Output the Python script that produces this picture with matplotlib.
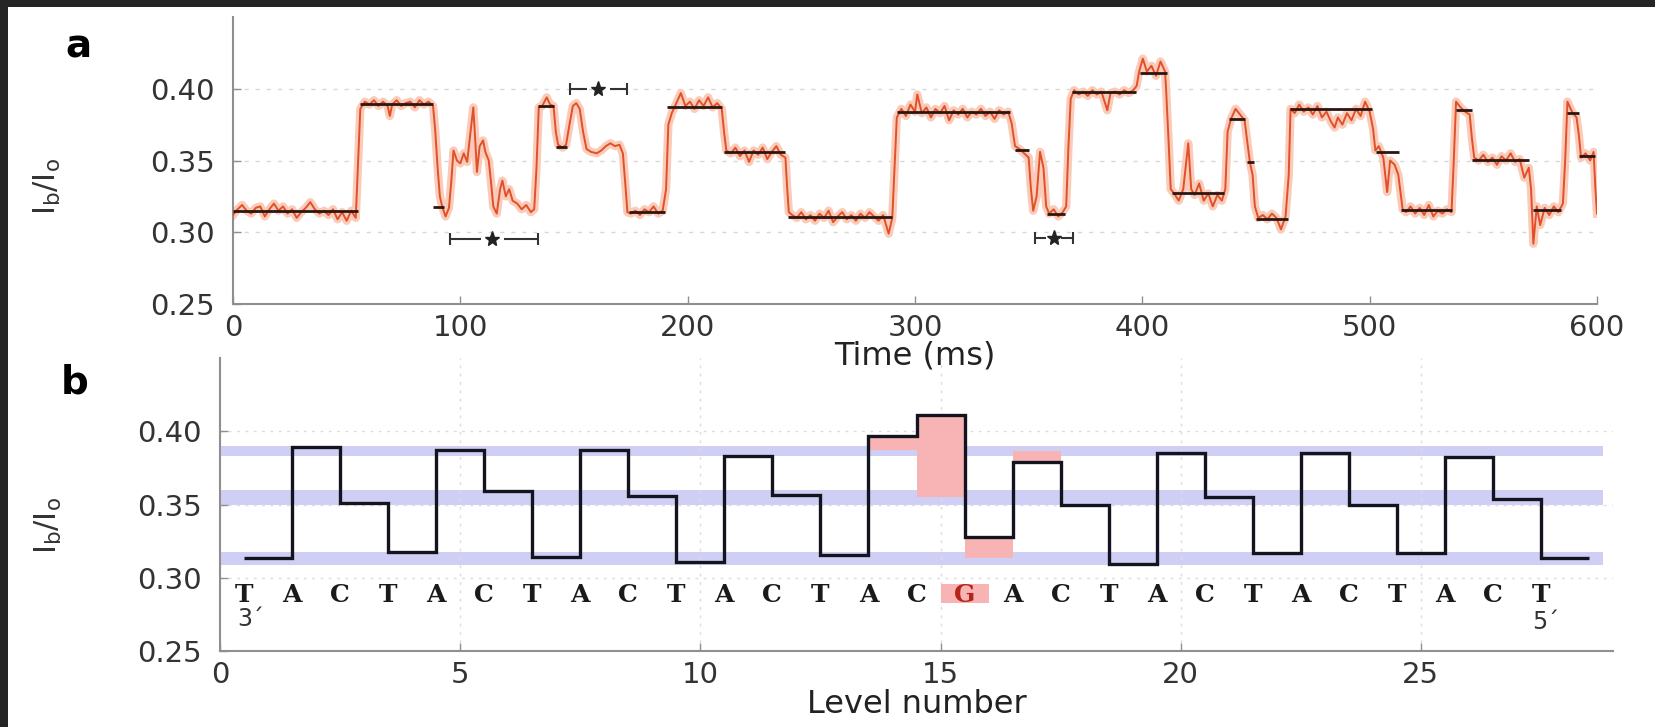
import matplotlib.pyplot as plt
from matplotlib.patches import Rectangle
from matplotlib.ticker import FormatStrFormatter

# ---- panel a: current trace (time in ms, Ib/Io) ----
trace_points = [
    (0, .312), (2, .316), (4, .319), (6, .315), (8, .313), (10, .317), (12, .318), (14, .311),
    (16, .316), (18, .320), (20, .315), (22, .318), (24, .313), (26, .316), (28, .310), (30, .314),
    (32, .317), (34, .321), (36, .316), (38, .313), (40, .315), (42, .312), (44, .316), (46, .309),
    (48, .314), (50, .308), (52, .315), (54, .310), (56, .386), (58, .391), (60, .389), (62, .392),
    (64, .388), (66, .391), (68, .388), (69, .381), (70, .389), (72, .392), (74, .388), (76, .390),
    (78, .391), (80, .387), (82, .392), (84, .389), (86, .391), (88, .388), (89, .370), (90, .345),
    (91, .325), (92, .318), (93.5, .311), (95, .317), (96, .335), (97, .357), (98.5, .350), (100, .348),
    (101.5, .355), (103, .349), (104.5, .370), (105.7, .387), (106.5, .366), (107.3, .342), (108.5, .360),
    (110, .364), (111, .356), (112.5, .350), (113.5, .335), (114.5, .318), (116, .313), (117.5, .330),
    (118.5, .336), (120, .325), (121.5, .330), (123, .322), (125, .320), (127, .316), (129, .319),
    (131, .314), (132.5, .316), (133.5, .345), (134.5, .387), (136, .388), (138, .394), (139.5, .389),
    (141, .388), (142, .370), (143, .361), (145, .359), (146.5, .361), (148, .375), (149.5, .388),
    (151, .390), (152.5, .386), (154, .370), (155.5, .358), (157.5, .356), (160, .355), (162, .357),
    (164, .360), (166, .362), (168, .360), (170, .361), (171.5, .355), (172.5, .335), (173.5, .314),
    (175, .313), (177, .315), (179, .312), (181, .316), (183, .314), (185, .318), (187, .313),
    (189, .315), (190.5, .330), (191.5, .375), (193, .383), (195, .390), (197, .397), (199, .388),
    (201, .391), (203, .386), (205, .392), (207, .388), (209, .394), (211, .387), (213, .390),
    (215, .386), (216, .370), (217, .357), (219, .355), (221, .359), (223, .353), (225, .357),
    (227, .349), (229, .357), (231, .354), (233, .359), (235, .351), (237, .356), (239, .360),
    (241, .354), (243, .352), (243.8, .330), (244.5, .314), (246, .312), (248, .310), (250, .314),
    (252, .309), (254, .312), (256, .308), (258, .313), (260, .310), (262, .315), (264, .307),
    (266, .311), (268, .314), (270, .309), (272, .312), (274, .308), (276, .313), (278, .310),
    (280, .314), (282, .311), (284, .308), (286, .312), (288.4, .299), (290, .310), (291, .345),
    (292, .380), (294, .386), (296, .381), (298, .389), (300, .384), (301, .396), (303, .383),
    (305, .387), (307, .380), (309, .386), (311, .383), (313, .388), (315, .378), (317, .385),
    (319, .382), (321, .386), (323, .380), (325, .384), (327, .382), (329, .386), (331, .381),
    (333, .384), (335, .379), (337, .385), (339, .382), (341, .384), (342.5, .376), (344, .360),
    (346, .358), (348, .355), (350, .352), (351, .330), (352, .315), (353.5, .325), (355, .356),
    (356.5, .345), (357.7, .318), (359, .313), (361, .316), (363, .311), (365, .314), (366.5, .318),
    (367.5, .360), (368.5, .393), (370, .399), (372, .396), (374, .398), (376, .395), (378, .399),
    (380, .396), (382, .398), (384.6, .385), (386, .397), (388, .398), (390, .396), (392, .399),
    (394, .397), (396, .399), (397.5, .402), (398.6, .412), (400.2, .421), (402, .412), (404, .416),
    (406, .409), (408, .419), (410, .412), (410.5, .398), (411.5, .365), (412.5, .330), (414, .327),
    (416, .322), (418, .330), (420.2, .362), (421.5, .330), (423, .326), (425, .334), (427, .322),
    (429, .327), (431, .318), (433, .326), (435, .322), (436.5, .330), (437.5, .370), (439, .379),
    (441, .386), (443, .382), (445, .378), (446, .365), (447.3, .349), (448.5, .340), (449.5, .318),
    (451, .310), (453, .312), (455, .309), (457, .313), (459, .310), (461, .302), (463, .311),
    (464.4, .340), (465.2, .386), (467, .383), (469, .389), (471, .384), (473, .387), (475, .382),
    (477, .388), (479, .380), (481, .384), (483, .377), (484.6, .373), (486, .380), (488, .375),
    (490, .383), (492, .378), (494, .386), (496, .381), (498, .391), (500, .384), (501.5, .372),
    (502.5, .357), (504, .360), (506, .352), (507.7, .328), (509, .350), (511, .347), (512.6, .340),
    (513.4, .330), (514.5, .316), (516, .314), (518, .318), (520, .313), (522, .317), (524, .312),
    (526, .319), (528, .311), (530, .315), (532, .313), (534, .316), (536, .314), (537, .350),
    (538, .391), (540, .387), (542, .384), (544, .382), (545, .365), (546, .352), (548, .350),
    (550, .354), (552, .349), (554, .352), (556, .347), (558, .353), (560, .350), (562, .355),
    (564, .349), (566, .351), (568, .338), (570, .345), (571, .330), (572, .292), (573.5, .318),
    (575, .305), (577, .317), (579, .312), (581, .318), (583, .314), (585, .320), (586, .350),
    (587, .391), (589, .384), (591, .380), (592, .368), (593, .352), (595, .355), (597, .350),
    (598.5, .356), (599.3, .330), (600, .313),
]

# fitted levels (black segments)
fit_start = [0, 56, 88, 134, 142, 174, 191, 216, 244, 292, 344, 358, 369, 399, 413, 438, 446, 450, 465, 503, 514, 538, 545, 572, 587, 592]
fit_end = [55, 88, 93, 141, 147, 190, 215, 243, 290, 342, 350, 366, 397, 411, 436, 445, 449, 464, 501, 513, 536, 545, 570, 584, 592, 599]
fit_level = [.3145, .3895, .3176, .3880, .3593, .3141, .3870, .3558, .3106, .3836, .3570, .3130, .3975, .4113, .3273, .3790, .3488, .3095, .3859, .3558, .3157, .3852, .3504, .3157, .3829, .3530]

# "|-*-|" annotations
star_left = [95.4, 148.2, 352.7]
star_right = [134.3, 173.1, 369.5]
star_mid = [114.0, 160.7, 361.0]
star_y = [0.2955, 0.400, 0.296]

# ---- panel b: level sequence ----
level_number = list(range(1, 29))
level_value = [0.3134, 0.389, 0.351, 0.3175, 0.387, 0.359, 0.314, 0.387, 0.3557, 0.3106,
               0.383, 0.3563, 0.3154, 0.3966, 0.411, 0.3277, 0.379, 0.350, 0.3095, 0.385,
               0.355, 0.3168, 0.385, 0.350, 0.3168, 0.3823, 0.3536, 0.3134]
band_center = [0.3865, 0.3547, 0.313]
band_half = [0.0035, 0.0052, 0.0045]
band_end = 28.8
pink_x0 = [13.5, 14.5, 15.5, 16.5]
pink_x1 = [14.5, 15.5, 16.5, 17.5]
pink_y0 = [0.387, 0.355, 0.3134, 0.379]
pink_y1 = [0.3966, 0.411, 0.3277, 0.3865]
sequence = "TACTACTACTACTACGACTACTACTACT"
mutant_index = 15
mutant_box = (15.0, 16.0, 0.2826, 0.2955)
seq_y = 0.2880

plt.rcParams['font.family'] = ['DejaVu Sans']
plt.rcParams['mathtext.default'] = 'regular'

fig = plt.figure(figsize=(16.55, 7.27), dpi=100, facecolor='#252525')
# white sheet on the dark slide background
fig.patches.append(Rectangle((8 / 1655, 0), 1, 1 - 7 / 727, transform=fig.transFigure,
                             facecolor='white', edgecolor='none', zorder=-10))

ax1 = fig.add_axes([233 / 1655, 1 - 304 / 727, 1364 / 1655, 287 / 727])
ax2 = fig.add_axes([220 / 1655, 1 - 651 / 727, 1393 / 1655, 293 / 727])

for ax in (ax1, ax2):
    ax.set_facecolor('none')
    ax.spines['top'].set_visible(False)
    ax.spines['right'].set_visible(False)
    for side in ('left', 'bottom'):
        ax.spines[side].set_color('#8f8f8f')
        ax.spines[side].set_linewidth(1.5)
    ax.tick_params(direction='in', length=6, width=1, colors='#8f8f8f',
                   labelcolor='#333333', labelsize=21)
    ax.tick_params(axis='y', pad=13)
    ax.tick_params(axis='x', pad=7)
    ax.set_ylim(0.25, 0.45)
    ax.set_yticks([0.25, 0.30, 0.35, 0.40])
    ax.yaxis.set_major_formatter(FormatStrFormatter('%.2f'))
    ax.set_ylabel('I$_b$/I$_o$', fontsize=22, color='#333333')

# panel a
t = [p[0] for p in trace_points]
v = [p[1] for p in trace_points]
ax1.set_xlim(0, 600)
ax1.set_xticks(range(0, 601, 100))
ax1.grid(axis='y', linestyle=(0, (3, 5)), color='#d8d8d8', linewidth=1)
ax1.plot(t, v, color='#f9cbb8', lw=6, solid_joinstyle='round', zorder=2)
ax1.plot(t, v, color='#e2502a', lw=1.4, zorder=3)
ax1.hlines(fit_level, fit_start, fit_end, color='#2b1612', lw=2, zorder=4)
for x0, x1, xm, y in zip(star_left, star_right, star_mid, star_y):
    gap = min(5, (x1 - x0) / 5)
    ax1.hlines([y, y], [x0, xm + gap], [xm - gap, x1], color='#333333', lw=1.5, zorder=5)
    ax1.plot([x0, x1], [y, y], ls='none', marker='|', ms=9, mew=1.5, color='#333333', zorder=5)
    ax1.plot([xm], [y], ls='none', marker='*', ms=11, color='#222222', zorder=5)
ax1.set_xlabel('Time (ms)', fontsize=23, color='#222222')
ax1.xaxis.set_label_coords(0.5, -0.18)
ax1.xaxis.label.set_va('center')
ax1.yaxis.set_label_coords(-0.136, 0.41)
ax1.yaxis.label.set_va('center')

# panel b
ax2.set_xlim(0, 29)
ax2.set_xticks(range(0, 30, 5))
ax2.grid(True, linestyle=(0, (2, 4)), color='#dcdcdc', linewidth=1)
for c, h in zip(band_center, band_half):
    ax2.fill_between([0, band_end], c - h, c + h, color='#cfcff6', lw=0, zorder=1)
for x0, x1, y0, y1 in zip(pink_x0, pink_x1, pink_y0, pink_y1):
    ax2.add_patch(Rectangle((x0, y0), x1 - x0, y1 - y0, facecolor='#f8b4b4',
                            edgecolor='none', zorder=2))
mx0, mx1, my0, my1 = mutant_box
ax2.add_patch(Rectangle((mx0, my0), mx1 - mx0, my1 - my0, facecolor='#f8b4b4',
                        edgecolor='none', zorder=2))
edges = [n - 0.5 for n in level_number] + [level_number[-1] + 0.5]
ax2.stairs(level_value, edges, baseline=None, color='#14141e', lw=2.4, zorder=3)
for k, ch in enumerate(sequence):
    ax2.text(k + 0.5, seq_y, ch, ha='center', va='center', family='DejaVu Serif',
             weight='bold', fontsize=18,
             color='#b5241c' if k == mutant_index else '#1a1a1a', zorder=4)
ax2.text(0.63, 0.2718, "3\u00b4", ha='center', va='center', fontsize=17, color='#333333')
ax2.text(27.6, 0.2697, "5\u00b4", ha='center', va='center', fontsize=17, color='#333333')
ax2.set_xlabel('Level number', fontsize=23, color='#222222')
ax2.xaxis.set_label_coords(0.5, -0.184)
ax2.xaxis.label.set_va('center')
ax2.yaxis.set_label_coords(-0.1235, 0.43)
ax2.yaxis.label.set_va('center')

fig.text(78 / 1655, 1 - 46 / 727, 'a', fontsize=28, weight='bold', ha='center', va='center')
fig.text(75 / 1655, 1 - 382 / 727, 'b', fontsize=28, weight='bold', ha='center', va='center')

fig.savefig('out.png', dpi=100, facecolor=fig.get_facecolor())
